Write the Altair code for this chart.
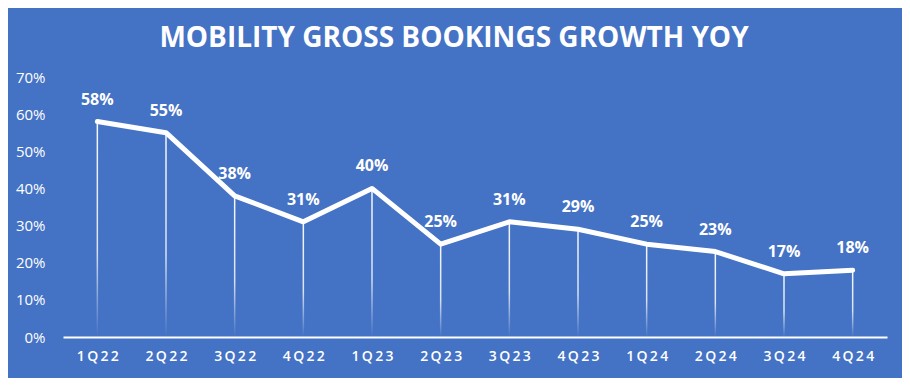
import altair as alt
import pandas as pd

quarters = ["1Q22", "2Q22", "3Q22", "4Q22", "1Q23", "2Q23", "3Q23", "4Q23", "1Q24", "2Q24", "3Q24", "4Q24"]
growth = [58, 55, 38, 31, 40, 25, 31, 29, 25, 23, 17, 18]
y_ticks = [0, 10, 20, 30, 40, 50, 60, 70]

df = pd.DataFrame({"q": quarters, "g": growth})
df["label"] = [f"{v}%" for v in growth]

BG = "#4472C4"
FONT = "Open Sans"
THIN = "\u2009"

x = alt.X("q:N", sort=quarters, title=None,
          scale=alt.Scale(type="point", padding=0.5),
          axis=alt.Axis(labelColor="white", labelFont=FONT, labelFontSize=14,
                        labelFontWeight=600, labelAngle=0, labelPadding=12,
                        labelExpr=f"join(split(datum.label, ''), '{THIN}')",
                        domainColor="white", domainWidth=2, ticks=False, grid=False))
y = alt.Y("g:Q", title=None,
          scale=alt.Scale(domain=[0, 70], nice=False),
          axis=alt.Axis(values=y_ticks, labelExpr="datum.value + '%'", labelColor="white",
                        labelFont=FONT, labelFontSize=15, labelPadding=18,
                        domain=False, ticks=False, grid=False))

grad = alt.LinearGradient(
    gradient="linear", x1=0, x2=0, y1=0, y2=1,
    stops=[alt.GradientStop(color="rgba(255,255,255,0.95)", offset=0),
           alt.GradientStop(color="rgba(255,255,255,0.8)", offset=0.6),
           alt.GradientStop(color="rgba(255,255,255,0.0)", offset=1)])

base = alt.Chart(df)
drops = base.mark_bar(size=1.5, color=grad).encode(x=x, y=y, y2=alt.datum(0))
line = base.mark_line(color="white", strokeWidth=5, strokeCap="round", strokeJoin="round").encode(x=x, y=y)
labels = base.mark_text(color="white", font=FONT, fontSize=16, fontWeight="bold",
                        baseline="bottom", dy=-14).encode(x=x, y=y, text="label:N")

chart = (drops + line + labels).properties(
    width=824, height=260,
    background=BG,
    autosize=alt.AutoSizeParams(type="none"),
    padding={"left": 55, "top": 69, "right": 15, "bottom": 41},
    title=alt.Title("MOBILITY GROSS BOOKINGS GROWTH YOY", font=FONT, fontSize=28,
                    fontWeight="bold", color="white", anchor="middle", dx=-21,
                    offset=17, limit=0),
).configure_view(stroke=None)

chart.save("out.html", embed_options={"renderer": "svg", "actions": False})
